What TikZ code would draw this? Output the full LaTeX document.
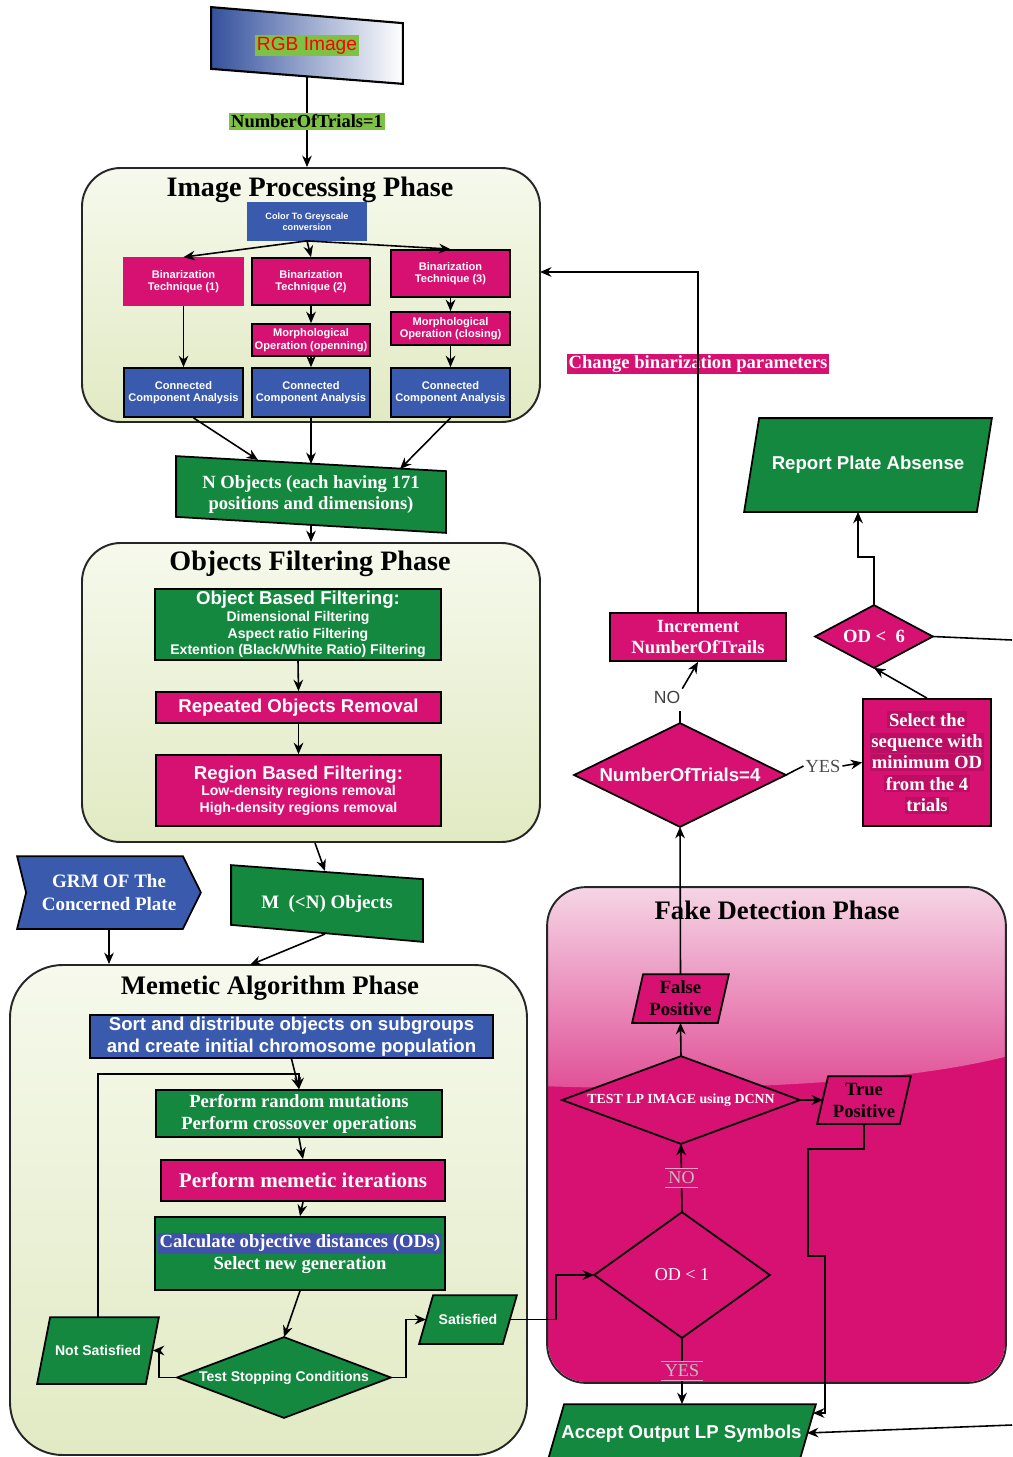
\documentclass[tikz,border=0pt]{standalone}
\usepackage{fontspec}
\setmainfont{Liberation Serif}
\setsansfont{Liberation Sans}
\usetikzlibrary{arrows.meta,calc}
\definecolor{pk}{HTML}{D61172}
\definecolor{gr}{HTML}{15883F}
\definecolor{bl}{HTML}{3A5AAE}
\definecolor{hlg}{HTML}{7DC242}
\definecolor{codbl}{HTML}{3F51A8}
\definecolor{pnlT}{HTML}{F6F9EC}
\definecolor{pnlB}{HTML}{E1EAC3}
\definecolor{lpk}{HTML}{F6DAE8}
\pgfdeclarelayer{panel}
\pgfdeclarelayer{shape}
\pgfsetlayers{panel,shape,main}
\setlength{\fboxsep}{1pt}
\def\mkbox#1#2(#3,#4)(#5,#6)#7{\node[#1,minimum width={(#5-#3)*0.02cm},minimum height={(#6-#4)*0.02cm}] (#2) at ({(#3+#5)/2},{(#4+#6)/2}) {#7};}
\newcommand\mkpara[3]{\path[#3] (#1.south west) -- ($(#1.north west)+(#2,0)$) -- (#1.north east) -- ($(#1.south east)+(-#2,0)$) -- cycle;}
\newcommand\mkdiam[2]{\path[#2] (#1.west) -- (#1.north) -- (#1.east) -- (#1.south) -- cycle;}
\newcommand\mkskew[4]{\path[#4] (#1.north west) -- ($(#1.north east)+(0,#2)$) -- (#1.south east) -- ($(#1.south west)+(0,-#3)$) -- cycle;}
\tikzset{
  base/.style={inner sep=1pt, align=center, line width=1pt},
  pbox/.style={base, draw=black, fill=pk, text=white},
  gbox/.style={base, draw=black, fill=gr, text=white},
  bbox/.style={base, draw=black, fill=bl, text=white},
  ghost/.style={base, text=white},
  shp/.style={draw=black, line width=1pt},
  arr/.style={line width=0.9pt, -{Stealth[length=6.5pt,width=5.5pt]}},
  ln/.style={line width=0.9pt},
  panel/.style={draw=black!85, line width=1.1pt, rounded corners=22pt, top color=pnlT, bottom color=pnlB},
  f63/.style={font=\sffamily\bfseries\fontsize{6.3}{7.2}\selectfont},
  f53/.style={font=\sffamily\bfseries\fontsize{5.2}{6.2}\selectfont},
  fsb8/.style={font=\sffamily\bfseries\fontsize{8}{9.4}\selectfont},
  fsb/.style={font=\sffamily\bfseries\fontsize{10.6}{12.5}\selectfont},
  frb/.style={font=\rmfamily\bfseries\fontsize{10.6}{12.5}\selectfont},
  frb12/.style={font=\rmfamily\bfseries\fontsize{12}{14}\selectfont},
  frr/.style={font=\rmfamily\fontsize{10.3}{12}\selectfont},
  ftest/.style={font=\rmfamily\bfseries\fontsize{7.9}{9}\selectfont},
  ptitle/.style={font=\rmfamily\bfseries\fontsize{16}{19}\selectfont},
  ptitleb/.style={font=\rmfamily\bfseries\fontsize{15.2}{18}\selectfont},
  lblp/.style={fill=pk, text=black!25, font=\rmfamily\fontsize{10.3}{12}\selectfont, inner sep=1.5pt},
}
\begin{document}
\begin{tikzpicture}[x=0.02cm,y=-0.02cm]
\useasboundingbox (0,0) rectangle (1012,1457);
% ---------------- panels
\begin{pgfonlayer}{panel}
\fill[white] (0,0) rectangle (1012,1457);
\mkbox{panel}{ipp}(82,168)(540,422){}
\mkbox{panel}{ofp}(82,543)(540,842){}
\mkbox{panel,rounded corners=30pt}{mem}(10,965)(527,1455){}
\mkbox{base,fill=pk,rounded corners=22pt}{fdp}(548,888)(1005,1382){}
\begin{scope}
  \clip[rounded corners=22pt] (fdp.north west) rectangle (fdp.south east);
  \shade[top color=lpk, bottom color=pk!74!white] (540,880) -- (1012,880) -- (1012,1055) .. controls (900,1085) and (700,1092) .. (540,1086) -- cycle;
\end{scope}
\draw[line width=1.1pt, black!85, rounded corners=22pt] (fdp.north west) rectangle (fdp.south east);
\end{pgfonlayer}
\node[ptitle] (ipt) at (310,190) {Image Processing Phase};
\node[ptitle] (oft) at (310,564) {Objects Filtering Phase};
\node[ptitleb] (mat) at (270,988) {Memetic Algorithm Phase};
\node[ptitleb] (fdt) at (777,910) {Fake Detection Phase};
% ---------------- top
\mkbox{ghost}{rgb}(212,8)(402,83){\colorbox{hlg}{\color{red}\sffamily\fontsize{10.9}{12}\selectfont RGB Image}}
\coordinate (rgbB) at (307,76);
\draw[arr] (rgbB) -- node[fill=hlg, inner sep=1pt, font=\rmfamily\bfseries\fontsize{10.5}{12}\selectfont] (n1lbl) {NumberOfTrials=1} (ipp.north -| rgbB);
% ---------------- image processing
\mkbox{bbox,draw=bl,f53}{gray}(248,203)(366,240){Color To Greyscale\\conversion}
\mkbox{pbox,draw=pk,f63}{bt1}(124,258)(243,305){Binarization\\Technique (1)}
\mkbox{pbox,f63}{bt2}(252,258)(370,305){Binarization\\Technique (2)}
\mkbox{pbox,f63}{bt3}(391,250)(510,297){Binarization\\Technique (3)}
\mkbox{pbox,f63}{mo2}(252,324)(370,356){Morphological\\Operation (openning)}
\mkbox{pbox,f63}{mo3}(391,312)(510,345){Morphological\\Operation (closing)}
\mkbox{bbox,f63}{cca1}(124,368)(243,417){Connected\\Component Analysis}
\mkbox{bbox,f63}{cca2}(252,368)(370,417){Connected\\Component Analysis}
\mkbox{bbox,f63}{cca3}(391,368)(510,417){Connected\\Component Analysis}
\draw[arr] (gray.south) -- (bt1.north);
\draw[arr] (gray.south) -- (bt2.north);
\draw[arr] (gray.south) -- (bt3.north);
\draw[arr] (bt1.south) -- (cca1.north);
\draw[arr] (bt2.south) -- (mo2.north);
\draw[arr] (mo2.south) -- (cca2.north);
\draw[arr] (bt3.south) -- (mo3.north);
\draw[arr] (mo3.south) -- (cca3.north);
% ---------------- N objects
\mkbox{ghost,frb}{nobj}(177,457)(445,532){N Objects (each having 171\\positions and dimensions)}
\coordinate (nobjA) at (258,460);
\coordinate (nobjB) at (311,464);
\coordinate (nobjC) at (400,469);
\coordinate (nobjS) at (311,525);
\draw[arr] ($(cca1.south)+(10,0)$) -- (nobjA);
\draw[arr] (cca2.south) -- (nobjB);
\draw[arr] (cca3.south) -- (nobjC);
\draw[arr] (nobjS) -- (ofp.north);
% ---------------- objects filtering
\mkbox{gbox,fsb8}{obf}(155,589)(441,660){{\fontsize{10.6}{12}\selectfont Object Based Filtering:}\\Dimensional Filtering\\Aspect ratio Filtering\\Extention (Black/White Ratio) Filtering}
\mkbox{pbox,fsb}{ror}(156,692)(441,723){Repeated Objects Removal}
\mkbox{pbox,fsb8}{rbf}(156,755)(441,826){{\fontsize{10.6}{12}\selectfont Region Based Filtering:}\\Low-density regions removal\\High-density regions removal}
\draw[arr] (obf.south) -- (ror.north);
\draw[arr] (ror.south) -- (rbf.north);
% ---------------- GRM and M objects
\mkbox{ghost,font=\rmfamily\bfseries\fontsize{10.8}{13}\selectfont}{grm}(18,857)(200,928){GRM OF The\\Concerned Plate}
\mkbox{ghost,font=\rmfamily\bfseries\fontsize{10.8}{13}\selectfont}{mobj}(232,866)(422,941){M\ \ (<N) Objects}
\coordinate (mobjT) at (325,871);
\coordinate (mobjB) at (325,934);
\coordinate (memT) at (250,965);
\draw[arr] ($(ofp.south)+(4,0)$) -- (mobjT);
\draw[arr] (grm.south) -- (grm.south |- mem.north);
\draw[arr] (mobjB) -- (memT);
% ---------------- memetic
\mkbox{bbox,fsb}{sort}(90,1015)(493,1058){Sort and distribute objects on subgroups\\and create initial chromosome population}
\mkbox{gbox,frb}{prm}(156,1090)(442,1137){Perform random mutations\\Perform crossover operations}
\mkbox{pbox,frb12}{pmi}(161,1160)(445,1201){Perform memetic iterations}
\mkbox{gbox,frb}{cod}(155,1217)(445,1290){\colorbox{codbl}{Calculate objective distances (ODs)}\\Select new generation}
\mkbox{ghost,fsb8}{tsc}(178,1338)(390,1417){Test Stopping Conditions}
\mkbox{ghost,fsb8}{ns}(38,1318)(158,1383){Not Satisfied}
\mkbox{ghost,fsb8}{sat}(420,1296)(516,1343){Satisfied}
\draw[arr] (sort.south) -- (prm.north);
\draw[arr] (ns.north) |- ($(prm.north)+(0,-15)$) -- (prm.north);
\draw[arr] (prm.south) -- (pmi.north);
\draw[arr] (pmi.south) -- (cod.north);
\draw[arr] (cod.south) -- (tsc.north);
\draw[arr] (tsc.west) -- ++(-18,0) |- ($(ns.east)+(-6,0)$);
\draw[arr] (tsc.east) -- ++(15,0) |- ($(sat.west)+(7,0)$);
% ---------------- fake detection
\mkbox{ghost,frr}{od1}(595,1213)(769,1337){OD < 1}
\mkbox{ghost,ftest}{test}(563,1057)(799,1143){TEST LP IMAGE using DCNN}
\mkbox{ghost,text=black,frb}{fp}(633,975)(728,1022){False\\Positive}
\mkbox{ghost,text=black,frb}{tp}(818,1077)(910,1123){True\\Positive}
\mkbox{ghost,fsb}{acc}(548,1405)(815,1462){Accept Output LP Symbols}
\draw[arr] ($(sat.east)+(-7,0)$) -- ++(46,0) |- (od1.west);
\draw[arr] (od1.south) -- node[lblp] (yesl) {YES} (od1.south |- acc.north);
\draw[white!60!pk, line width=0.6pt] (yesl.north west) -- (yesl.north east) (yesl.south west) -- (yesl.south east);
\draw[arr] (od1.north) -- node[lblp] (nol) {NO} (test.south);
\draw[white!60!pk, line width=0.6pt] (nol.north west) -- (nol.north east) (nol.south west) -- (nol.south east);
\draw[arr] (test.north) -- (fp.south);
\draw[arr] (test.east) -- ($(tp.west)+(6,0)$);
\coordinate (accR1) at (813,1413);
\coordinate (accR2) at (807,1433);
\coordinate (offR2) at (1012,1425);
\draw[arr] (tp.south) -- ++(0,25) -- ++(-56,0) -- ++(0,107) -- ++(17,0) |- (accR1);
\draw[arr] (offR2) -- (accR2);
% ---------------- right column
\mkbox{ghost,fsb}{nt4}(575,724)(785,826){NumberOfTrials=4}
\mkbox{pbox,frb}{inc}(610,613)(786,661){Increment\\NumberOfTrails}
\mkbox{pbox,frb}{sel}(863,699)(991,826){\colorbox{pk!88!black}{Select the}\\[-0.3pt]\colorbox{pk!88!black}{sequence with}\\[-0.3pt]\colorbox{pk!88!black}{minimum OD}\\[-0.3pt]\colorbox{pk!88!black}{from the 4}\\[-0.3pt]\colorbox{pk!88!black}{trials}}
\mkbox{ghost,frb}{od6}(816,606)(932,667){OD <\ \ 6}
\mkbox{ghost,fsb}{rpa}(745,419)(991,511){Report Plate Absense}
\draw[arr] (fp.north) -- (nt4.south);
\draw[ln] (nt4.north) -- ++(0,-12);
\node[font=\sffamily\fontsize{10}{12}\selectfont, text=black!75, inner sep=1pt] (nolbl) at (667,697) {NO};
\draw[arr] (nolbl.north east) -- (inc.south);
\coordinate (ipin) at (540,272);
\node[fill=pk, text=white, frb, inner sep=1pt] (cbp) at (698,364) {Change binarization parameters};
\draw[arr] (inc.north) |- (ipin);
\node[font=\rmfamily\fontsize{10.5}{12}\selectfont, text=black!70, inner sep=1pt] (yes2) at (823,766) {YES};
\draw[ln] (nt4.east) -- (yes2.west);
\draw[arr] (yes2.east) -- (sel.west);
\draw[arr] (sel.north) -- (od6.south);
\draw[arr] (od6.north) -- ++(0,-48) -| ($(rpa.south)+(-10,0)$);
\coordinate (offR1) at (1012,640);
\draw[ln] (od6.east) -- (offR1);
% ---------------- shapes behind text
\begin{pgfonlayer}{shape}
\mkskew{rgb}{16}{15}{shp, line width=1.2pt, left color=bl!90!black, right color=white}
\mkskew{nobj}{15}{16}{shp, fill=gr}
\mkskew{mobj}{14}{17}{shp, fill=gr}
\path[shp, fill=bl] (grm.north west) -- ($(grm.north east)+(-18,0)$) -- (grm.east) -- ($(grm.south east)+(-18,0)$) -- (grm.south west) -- ($(grm.west)+(9,0)$) -- cycle;
\mkdiam{tsc}{shp, fill=gr}
\mkpara{ns}{13}{shp, fill=gr}
\mkpara{sat}{14}{shp, fill=gr}
\mkdiam{od1}{shp, fill=pk}
\mkdiam{test}{shp, fill=pk}
\mkpara{fp}{11}{shp, fill=pk}
\mkpara{tp}{11}{shp, fill=pk}
\mkpara{acc}{17}{shp, fill=gr}
\mkdiam{nt4}{shp, fill=pk}
\mkdiam{od6}{shp, fill=pk}
\mkpara{rpa}{15}{shp, fill=gr}
\end{pgfonlayer}
\end{tikzpicture}
\end{document}
